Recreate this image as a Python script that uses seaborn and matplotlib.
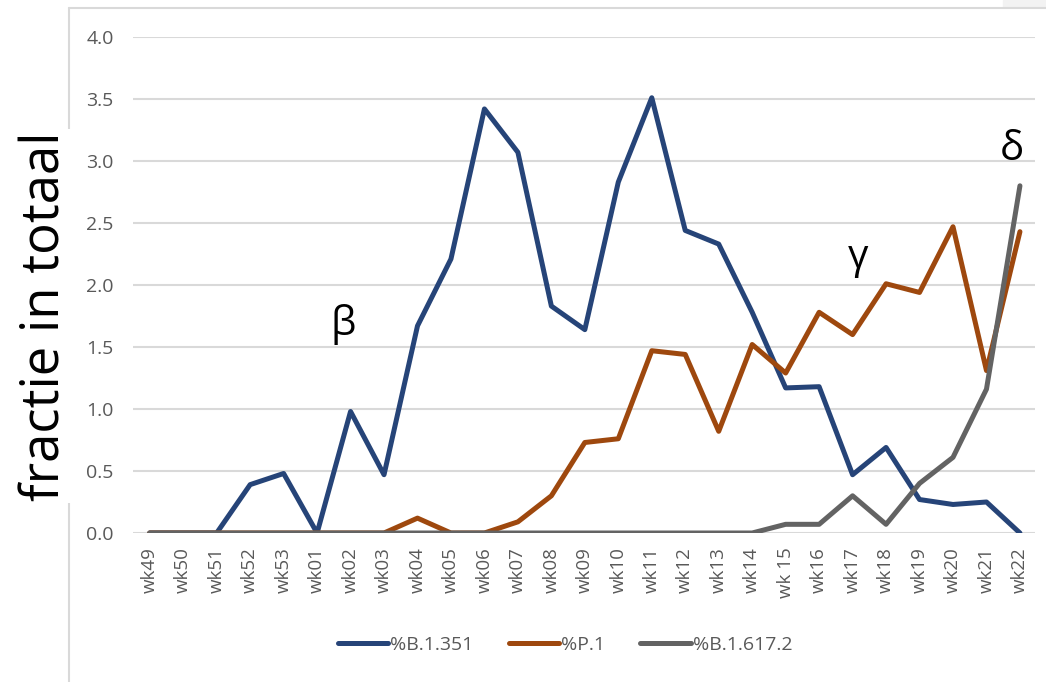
import numpy as np
import pandas as pd
import matplotlib
matplotlib.use("Agg")
import matplotlib.pyplot as plt
from matplotlib.lines import Line2D
from matplotlib.patches import Rectangle
import seaborn as sns

# ---------------------------------------------------------------------------
# Data
# ---------------------------------------------------------------------------
weeks = ["wk49", "wk50", "wk51", "wk52", "wk53", "wk01", "wk02", "wk03", "wk04",
         "wk05", "wk06", "wk07", "wk08", "wk09", "wk10", "wk11", "wk12", "wk13",
         "wk14", "wk 15", "wk16", "wk17", "wk18", "wk19", "wk20", "wk21", "wk22"]

b1351 = [0.0, 0.0, 0.0, 0.39, 0.48, 0.0, 0.98, 0.47, 1.67, 2.21, 3.42, 3.07,
         1.83, 1.64, 2.83, 3.51, 2.44, 2.33, 1.78, 1.17, 1.18, 0.47, 0.69,
         0.27, 0.23, 0.25, 0.0]
p1 = [0.0, 0.0, 0.0, 0.0, 0.0, 0.0, 0.0, 0.0, 0.12, 0.0, 0.0, 0.09, 0.30,
      0.73, 0.76, 1.47, 1.44, 0.82, 1.52, 1.29, 1.78, 1.60, 2.01, 1.94, 2.47,
      1.31, 2.43]
b16172 = [0.0, 0.0, 0.0, 0.0, 0.0, 0.0, 0.0, 0.0, 0.0, 0.0, 0.0, 0.0, 0.0,
          0.0, 0.0, 0.0, 0.0, 0.0, 0.0, 0.07, 0.07, 0.30, 0.07, 0.40, 0.61,
          1.16, 2.80]

series_names = ["%B.1.351", "%P.1", "%B.1.617.2"]
series_colors = ["#264478", "#9E480E", "#636363"]
y_ticks = [0.0, 0.5, 1.0, 1.5, 2.0, 2.5, 3.0, 3.5, 4.0]

frames = []
for name, vals in zip(series_names, [b1351, p1, b16172]):
    frames.append(pd.DataFrame({"idx": np.arange(len(weeks)), "week": weeks,
                                "value": vals, "variant": name}))
df = pd.concat(frames, ignore_index=True)

# ---------------------------------------------------------------------------
# Plot
# ---------------------------------------------------------------------------
sns.set_style("white")
plt.rcParams["font.family"] = ["Open Sans", "DejaVu Sans"]

W, H = 1046, 682
LW = 3.6
fig = plt.figure(figsize=(W / 100, H / 100), dpi=100)
ax = fig.add_axes([133 / W, (H - 533) / H, 902 / W, 496 / H])

sns.lineplot(data=df, x="idx", y="value", hue="variant",
             palette=dict(zip(series_names, series_colors)),
             hue_order=series_names, linewidth=LW, sort=False,
             legend=False, ax=ax)
for ln in ax.get_lines():
    ln.set_solid_joinstyle("round")
    ln.set_solid_capstyle("round")

ax.set_xlim(-0.5, 26.45)
ax.set_ylim(0, 4.0)
ax.set_yticks(y_ticks)
ax.set_yticklabels([f"{v:.1f}" for v in y_ticks], fontsize=14, color="#595959")
ax.set_xticks(np.arange(len(weeks)))
ax.set_xticklabels(weeks, rotation=90, fontsize=13.5, color="#595959")
ax.tick_params(axis="x", length=0, pad=10)
ax.tick_params(axis="y", length=0, pad=14)
ax.yaxis.grid(True, color="#d9d9d9", linewidth=1.5)
ax.set_axisbelow(True)
for s in ax.spines.values():
    s.set_visible(False)
ax.set_xlabel("")
ax.set_ylabel("")

# Greek letter annotations
ax.text(5.77, 1.68, "β", fontsize=29, ha="center", va="center", color="black")
ax.text(21.16, 2.22, "γ", fontsize=29, ha="center", va="center", color="black")
ax.text(25.76, 3.09, "δ", fontsize=29, ha="center", va="center", color="black")

# outer chart frame (partially covered by the y label)
fig.add_artist(Line2D([69 / W, 1], [1 - 8 / H, 1 - 8 / H], color="#d9d9d9", lw=1.5))
fig.add_artist(Line2D([69 / W, 69 / W], [0, 1 - 8 / H], color="#d9d9d9", lw=1.5))
fig.add_artist(Rectangle((1003 / W, 1 - 7 / H), 43 / W, 7 / H, color="#f2f2f2",
                         transform=fig.transFigure))

fig.text(46 / W, 1 - 316 / H, "fractie in totaal", rotation=90, fontsize=38,
         ha="center", va="center", color="black",
         bbox=dict(facecolor="white", edgecolor="none", pad=2))

handles = [Line2D([0], [0], color=c, lw=LW, solid_capstyle="round")
           for c in series_colors]
leg = fig.legend(handles, series_names, loc="center", ncol=3,
                 bbox_to_anchor=(565 / W, 1 - 645 / H), frameon=False,
                 fontsize=14, handlelength=2.6, handletextpad=0.1,
                 columnspacing=1.8)
for t in leg.get_texts():
    t.set_color("#595959")

fig.savefig("out.png", dpi=100)
